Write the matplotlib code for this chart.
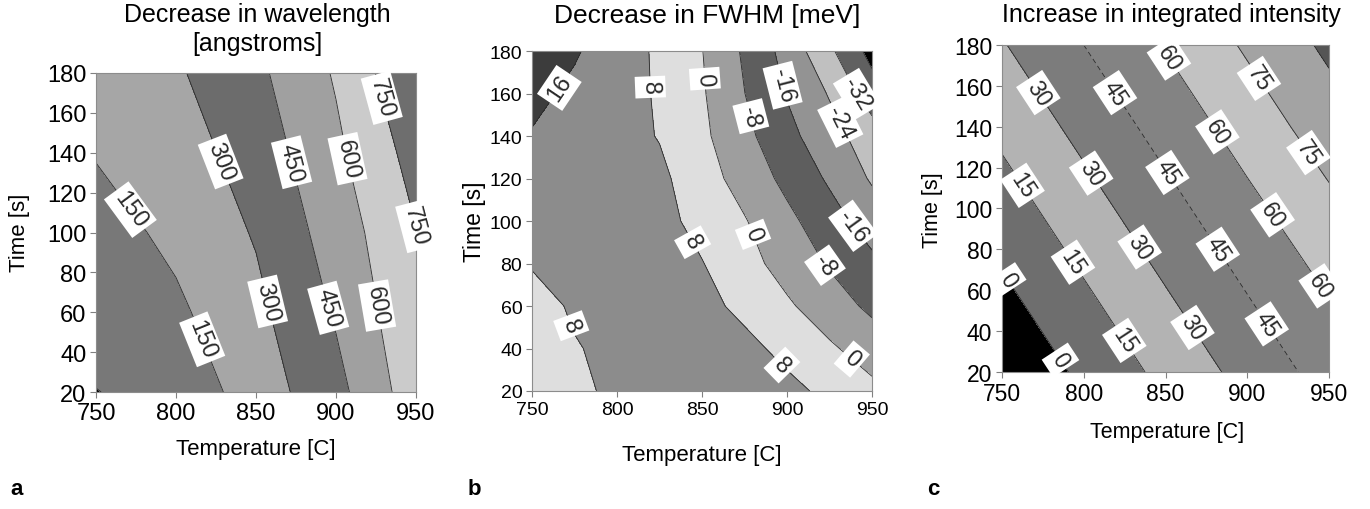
import matplotlib
matplotlib.use("Agg")
import matplotlib.pyplot as plt

plt.rcParams['font.family'] = ['Liberation Sans', 'DejaVu Sans']

# ---- data ----
# (a) decrease in wavelength [angstroms]
temps_a = [750, 800, 850, 900, 950]
times_a = [20, 60, 100, 140, 180]
wavelength = [
    [-3, 44, 223, 403, 684],
    [57, 123, 264, 467, 719],
    [88, 185, 312, 519, 745],
    [159, 231, 365, 570, 807],
    [210, 282, 417, 615, 892],
]
levels_a = [-50, 0, 150, 300, 450, 600, 750, 900]

# (b) decrease in FWHM [meV]
temps_b = [750, 775, 800, 825, 850, 875, 900, 925, 950]
times_b = [20, 40, 60, 80, 100, 120, 140, 160, 180]
fwhm = [
    [4.0, 6.5, 9.4, 10.5, 11.0, 11.0, 10.2, 6.1, 1.9],
    [4.5, 7.5, 9.9, 10.8, 11.0, 10.3, 5.7, 1.1, -3.6],
    [5.0, 9.0, 10.0, 10.6, 10.5, 5.9, 1.1, -4.2, -9.7],
    [8.6, 10.0, 10.8, 10.5, 8.3, 2.7, -3.0, -8.8, -14.3],
    [10.9, 11.5, 11.5, 10.5, 5.5, 0.5, -6.0, -12.8, -19.7],
    [13.2, 12.5, 11.5, 9.8, 3.2, -3.0, -10.1, -17.1, -24.9],
    [15.5, 13.5, 11.0, 7.6, 1.6, -5.9, -13.7, -21.0, -28.2],
    [18.0, 14.4, 11.0, 7.2, 0.8, -7.9, -16.5, -24.6, -36.2],
    [22.0, 16.8, 11.9, 6.7, 0.2, -9.1, -18.8, -30.5, -42.7],
]
levels_b = [-48, -40, -32, -24, -16, -8, 0, 8, 16, 24]

# (c) increase in integrated intensity
temps_c = [750, 800, 850, 900, 950]
times_c = [20, 60, 100, 140, 180]
intensity = [
    [-13, 3, 19, 35, 51],
    [-2.5, 13.5, 29.5, 45.5, 61],
    [8, 24, 40, 56, 71.5],
    [18.5, 34.5, 50.5, 66.5, 82.5],
    [29, 45, 61, 77, 93],
]
levels_c = [-15, 0, 15, 30, 45, 60, 75, 90, 105]

W, H = 1370, 510
fig = plt.figure(figsize=(W / 100, H / 100), dpi=100)


def rect(left, top, right, bottom):
    # pixel box -> figure fraction
    return [left / W, 1 - bottom / H, (right - left) / W, (bottom - top) / H]


def ftext(x, y, s, size, **kw):
    fig.text(x / W, 1 - y / H, s, fontsize=size, ha='center', va='center', **kw)


def panel(box, temps, times, z, levels, colors, plain_levels, label_levels, label_pos,
          tick_size, label_size, styles=None):
    ax = fig.add_axes(box)
    ax.contourf(temps, times, z, levels=levels, colors=colors)
    # unlabelled lines
    ax.contour(temps, times, z, levels=plain_levels, colors='#2a2a2a', linewidths=0.6,
               linestyles='solid')
    # labelled lines
    cs = ax.contour(temps, times, z, levels=label_levels, colors='#2a2a2a', linewidths=0.6,
                    linestyles=styles or 'solid')
    labels = ax.clabel(cs, manual=label_pos, inline=True, fmt='%d',
                       fontsize=label_size, inline_spacing=3)
    for txt in labels:
        txt.set_bbox(dict(facecolor='white', edgecolor='none', pad=3))
        txt.set_clip_on(False)
    ax.set_xlim(750, 950)
    ax.set_ylim(20, 180)
    ax.set_xticks(range(750, 951, 50))
    ax.set_yticks(range(20, 181, 20))
    ax.tick_params(direction='out', length=4, width=0.8, color='#808080',
                   labelsize=tick_size, pad=3)
    for s in ax.spines.values():
        s.set_color('#8c8c8c')
        s.set_linewidth(0.8)
    return ax


# panel a
panel(rect(96, 74, 416, 393), temps_a, times_a, wavelength, levels_a,
      ['black', '#787878', '#a6a6a6', '#6c6c6c', '#a0a0a0', '#cbcbcb', '#6e6e6e'],
      [0], [150, 300, 450, 600, 750],
      [(769, 110), (815, 46), (826, 135), (855, 65), (871, 135), (894, 62),
       (907, 137), (923, 63), (926, 167), (949, 96)],
      17, 17)
ftext(257, 15, 'Decrease in wavelength', 18)
ftext(257, 44, '[angstroms]', 18)
ftext(256, 450, 'Temperature [C]', 16)
ftext(20, 233, 'Time [s]', 16, rotation=90)
fig.text(10 / W, 1 - 495 / H, 'a', fontsize=16, fontweight='bold')

# panel b
panel(rect(532, 52, 872, 392), temps_b, times_b, fwhm, levels_b,
      ['black', '#606060', '#c0c0c0', '#939393', '#5e5e5e', '#9e9e9e', '#dedede',
       '#8c8c8c', '#3c3c3c'],
      [-40], [-32, -24, -16, -8, 0, 8, 16],
      [(771, 160), (819, 163), (852, 167), (898, 164), (882, 150), (936, 157),
       (925, 144), (840, 88), (884, 95), (936, 96), (922, 79), (774, 51),
       (898, 33), (937, 34)],
      14, 17)
ftext(707, 16, 'Decrease in FWHM [meV]', 19)
ftext(702, 455, 'Temperature [C]', 16)
ftext(475, 222, 'Time [s]', 16.5, rotation=90)
fig.text(468 / W, 1 - 495 / H, 'b', fontsize=16, fontweight='bold')

# panel c
panel(rect(1002, 46, 1329, 373), temps_c, times_c, intensity, levels_c,
      ['black', '#6e6e6e', '#b3b3b3', '#7c7c7c', '#838383', '#c2c2c2', '#a3a3a3',
       '#555555'],
      [90], [0, 15, 30, 45, 60, 75],
      [(849, 172), (769, 155), (814, 154), (904, 162), (877, 135), (935, 126),
       (760, 110), (802, 116), (850, 117), (912, 95), (753, 65), (792, 73),
       (832, 80), (878, 78), (941, 60), (784, 25), (822, 34), (865, 41),
       (909, 42)],
      16.5, 16.5,
      styles=['solid', 'solid', 'solid', (0, (6, 4)), 'solid', 'solid'])
ftext(1171, 15, 'Increase in integrated intensity', 18)
ftext(1167, 433, 'Temperature [C]', 15.5)
ftext(933, 210, 'Time [s]', 15.5, rotation=90)
fig.text(927 / W, 1 - 495 / H, 'c', fontsize=16, fontweight='bold')

fig.savefig('out.png', dpi=100)
